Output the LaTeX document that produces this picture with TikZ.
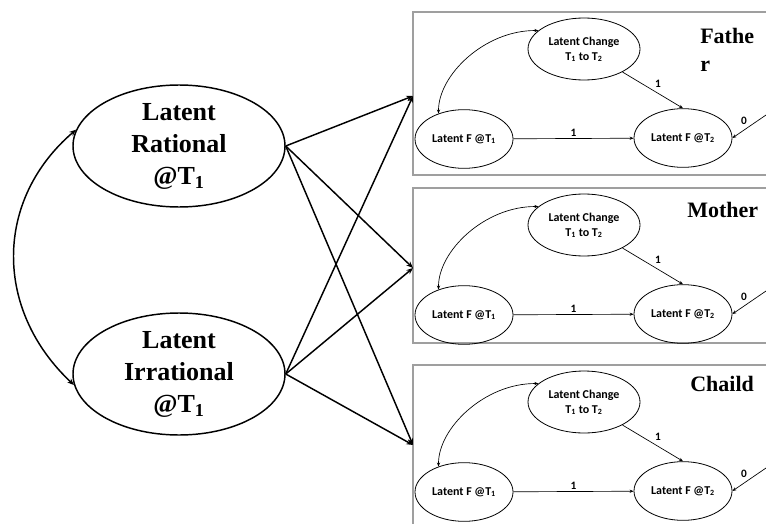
\documentclass[tikz,border=0pt]{standalone}
\usepackage{fontspec}
\setmainfont{Liberation Serif}
\newfontfamily\calib{Carlito}
\usetikzlibrary{arrows.meta,shapes.geometric}

\tikzset{
  bigvar/.style={ellipse, draw, line width=1.1pt, minimum width=159pt, minimum height=91.5pt,
    inner sep=0pt, align=center, font=\fontsize{19.5}{24}\selectfont\bfseries},
  smallvar/.style={ellipse, draw, line width=0.6pt, minimum width=73.5pt, minimum height=44pt,
    inner sep=0pt, align=center, font=\calib\bfseries\fontsize{9}{11.25}\selectfont},
  chgvar/.style={smallvar, minimum width=84pt, minimum height=46.5pt},
  bigarrow/.style={-{Stealth[length=5pt,width=4pt]}, line width=1.1pt},
  smallarrow/.style={-{Stealth[length=3pt,width=2.4pt]}, line width=0.5pt},
  panel/.style={draw=gray!75, line width=1pt},
  lbl/.style={font=\calib\bfseries\fontsize{8.5}{10}\selectfont, inner sep=1.5pt},
  ttl/.style={font=\fontsize{16.5}{21}\selectfont\bfseries, align=left, inner sep=0pt, anchor=north west}
}

\begin{document}
\begin{tikzpicture}[x=0.75pt, y=-0.75pt]
    \useasboundingbox (0,0) rectangle (766,524);

    % frames of the three panels
    \draw[panel] (766,12) -- (413,12) -- (413,175) -- (766,175);
    \draw[panel] (766,188) -- (413,188) -- (413,343) -- (766,343);
    \draw[panel] (766,365) -- (413,365) -- (413,524);

    % latent factors at T1
    \node[bigvar] (rat) at (179,146) {Latent\\Rational\\@T\textsubscript{1}};
    \node[bigvar] (irr) at (179,374) {Latent\\Irrational\\@T\textsubscript{1}};
    \draw[bigarrow, {Stealth[length=5pt,width=4pt]}-{Stealth[length=5pt,width=4pt]}]
        (rat.171) .. controls (-6,200) and (-6,310) .. (irr.186);

    \coordinate (inF) at (413,96);
    \coordinate (inM) at (413,268);
    \coordinate (inC) at (413,445);
    \draw[bigarrow] (rat.east) -- (inF);
    \draw[bigarrow] (rat.east) -- (inM);
    \draw[bigarrow] (rat.east) -- (inC);
    \draw[bigarrow] (irr.east) -- (inF);
    \draw[bigarrow] (irr.east) -- (inM);
    \draw[bigarrow] (irr.east) -- (inC);

    % change model in each panel
    \foreach \dy/\n/\ttl/\tx/\ty in {0/f/{Fathe\\r}/700/28, 176/m/Mother/687/202, 353/c/Chaild/690/376} {
        \node[chgvar] (chg\n) at (584,{49+\dy}) {Latent Change\\T\textsubscript{1} to T\textsubscript{2}};
        \node[smallvar] (a\n) at (464,{139+\dy}) {Latent F @T\textsubscript{1}};
        \node[smallvar] (b\n) at (683,{138+\dy}) {Latent F @T\textsubscript{2}};
        \node[ttl] (ttl\n) at (\tx,\ty) {\ttl};
        \coordinate (z\n) at (766,{115+\dy});

        \draw[smallarrow] (a\n) -- node[lbl, above] {1} (b\n);
        \draw[smallarrow] (chg\n) -- node[lbl, above right] {1} (b\n.north);
        \draw[smallarrow] (z\n) -- node[lbl, above left] {0} (b\n.east);
        \draw[smallarrow, {Stealth[length=3pt,width=2.4pt]}-{Stealth[length=3pt,width=2.4pt]}]
            (a\n.135) .. controls (438,{75+\dy}) and (485,{30+\dy}) .. (chg\n.158);
    }
\end{tikzpicture}
\end{document}
